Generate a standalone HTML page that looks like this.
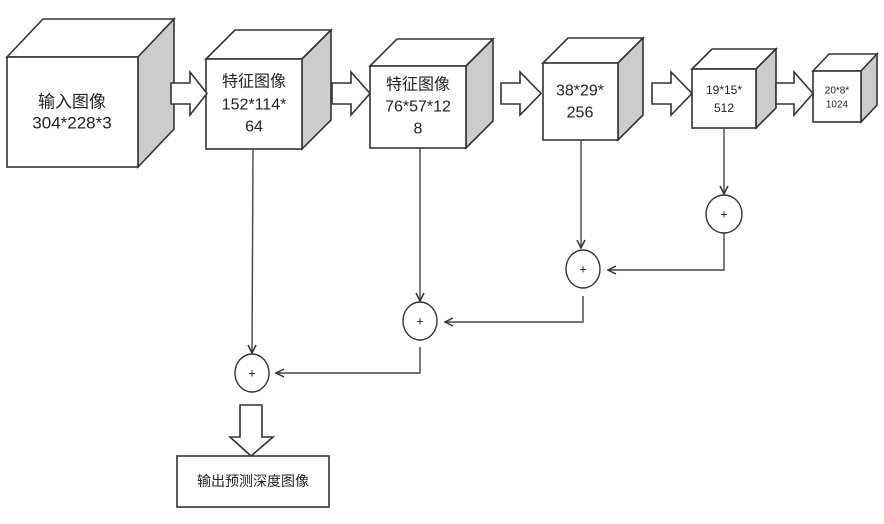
<!DOCTYPE html>
<html><head><meta charset="utf-8"><style>
html,body{margin:0;padding:0;background:#fff;}
svg{display:block;}
text{font-family:"Liberation Sans","Noto Sans CJK SC",sans-serif;fill:#222;text-anchor:middle;dominant-baseline:central;}
</style></head><body>
<svg width="884" height="524" viewBox="0 0 884 524" xmlns="http://www.w3.org/2000/svg">
<defs>
<marker id="ah" markerWidth="10" markerHeight="10" refX="9" refY="5" orient="auto" markerUnits="userSpaceOnUse">
<path d="M1,1 L9,5 L1,9" fill="none" stroke="#333" stroke-width="1.5"/>
</marker>
</defs>
<g stroke="#333" stroke-width="1.6" stroke-linejoin="miter">
<!-- cube1 -->
<polygon points="7,57 43,19 174,19 138,57" fill="#fff"/>
<polygon points="138,57 174,19 174,129 138,167" fill="#ccc"/>
<rect x="7" y="57" width="131" height="110" fill="#fff"/>
<!-- cube2 -->
<polygon points="206,59 235,30 331,30 302,59" fill="#fff"/>
<polygon points="302,59 331,30 331,120 302,149" fill="#ccc"/>
<rect x="206" y="59" width="96" height="90" fill="#fff"/>
<!-- cube3 -->
<polygon points="370,66 397,39 493,39 466,66" fill="#fff"/>
<polygon points="466,66 493,39 493,121 466,148" fill="#ccc"/>
<rect x="370" y="66" width="96" height="82" fill="#fff"/>
<!-- cube4 -->
<polygon points="543,63 568,38 643,38 618,63" fill="#fff"/>
<polygon points="618,63 643,38 643,115 618,140" fill="#ccc"/>
<rect x="543" y="63" width="75" height="77" fill="#fff"/>
<!-- cube5 -->
<polygon points="692,69 712,49 776,49 756,69" fill="#fff"/>
<polygon points="756,69 776,49 776,108 756,128" fill="#ccc"/>
<rect x="692" y="69" width="64" height="59" fill="#fff"/>
<!-- cube6 -->
<polygon points="813,71 829,54 877,54 861,71" fill="#fff"/>
<polygon points="861,71 877,54 877,105 861,122" fill="#ccc"/>
<rect x="813" y="71" width="48" height="51" fill="#fff"/>
<!-- block arrows -->
<polygon points="171,83 190,83 190,72 207,93.5 190,115 190,104 171,104" fill="#fff"/>
<polygon points="332,83 351,83 351,72 370,93.5 351,115 351,104 332,104" fill="#fff"/>
<polygon points="501,83 520,83 520,72 541,93.5 520,115 520,104 501,104" fill="#fff"/>
<polygon points="652,83 671,83 671,72 692,93.5 671,115 671,104 652,104" fill="#fff"/>
<polygon points="776,83 794,83 794,72 813,93.5 794,115 794,104 776,104" fill="#fff"/>
<!-- output arrow -->
<polygon points="240,405 262,405 262,437 273,437 251,456 230,437 240,437" fill="#fff"/>
<rect x="177" y="456" width="152" height="51" fill="#fff"/>
</g>
<g stroke="#444" stroke-width="1.4" fill="none">
<line x1="253" y1="149" x2="252" y2="353" marker-end="url(#ah)"/>
<line x1="420" y1="148" x2="420" y2="301" marker-end="url(#ah)"/>
<line x1="581" y1="140" x2="581" y2="248" marker-end="url(#ah)"/>
<line x1="724" y1="128" x2="724" y2="194" marker-end="url(#ah)"/>
<polyline points="724,233 724,270 608,270" marker-end="url(#ah)"/>
<polyline points="583,296 583,322 445,322" marker-end="url(#ah)"/>
<polyline points="420,347 420,373 276,373" marker-end="url(#ah)"/>
</g>
<g stroke="#333" stroke-width="1.4" fill="#fff">
<ellipse cx="724" cy="214" rx="18" ry="19"/>
<ellipse cx="583" cy="269" rx="17" ry="19"/>
<ellipse cx="420" cy="321" rx="17" ry="19"/>
<ellipse cx="252" cy="373" rx="17" ry="19"/>
</g>
<g font-size="13">
<text x="724" y="214">+</text>
<text x="583" y="269">+</text>
<text x="420" y="321">+</text>
<text x="252" y="373">+</text>
</g>
<g font-size="17">
<text x="72" y="102">输入图像</text>
<text x="72" y="123">304*228*3</text>
</g>
<g font-size="16">
<text x="254" y="82">特征图像</text>
<text x="254" y="105">152*114*</text>
<text x="254" y="127">64</text>
<text x="418" y="85">特征图像</text>
<text x="418" y="107">76*57*12</text>
<text x="418" y="129">8</text>
<text x="580" y="91">38*29*</text>
<text x="580" y="113">256</text>
</g>
<g font-size="12">
<text x="724" y="90">19*15*</text>
<text x="724" y="108">512</text>
</g>
<g font-size="10">
<text x="837" y="91">20*8*</text>
<text x="837" y="105">1024</text>
</g>
<text x="253" y="481" font-size="14">输出预测深度图像</text>
</svg>
</body></html>
